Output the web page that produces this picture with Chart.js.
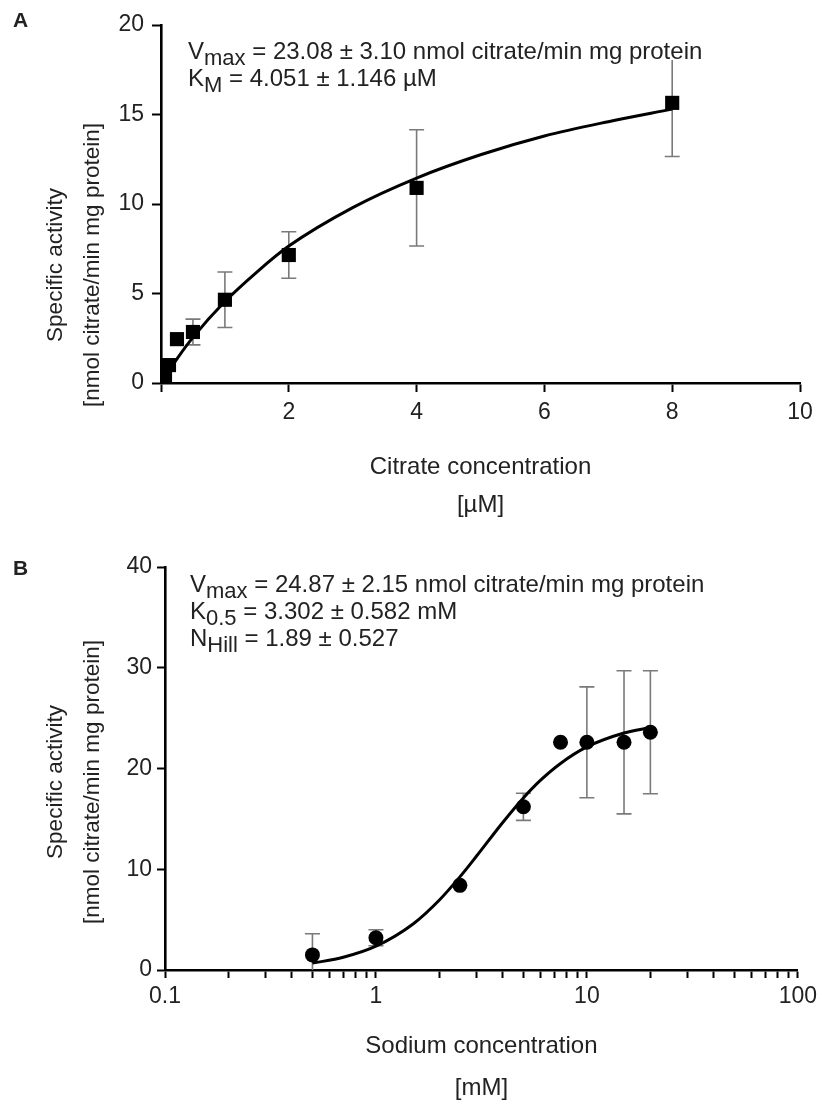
<!DOCTYPE html>
<html><head><meta charset="utf-8">
<script src="https://cdn.jsdelivr.net/npm/chart.js@4.4.0/dist/chart.umd.min.js"></script>
<style>
html,body{margin:0;padding:0;background:#fff;}
#wrap{position:relative;width:822px;height:1109px;overflow:hidden;}
.c{position:absolute;left:0;}
</style></head><body>
<div id="wrap">
<div class="c" style="top:0;width:822px;height:545px"><canvas id="chartA"></canvas></div>
<div class="c" style="top:545px;width:822px;height:564px"><canvas id="chartB"></canvas></div>
</div>
<script>
// ---------- Panel A data ----------
const citrateConc = [0, 0.031, 0.0625, 0.125, 0.25, 0.5, 1, 2, 4, 8];
const citrateActivity = [0, 0.15, 0.45, 1.0, 2.45, 2.85, 4.65, 7.15, 10.9, 15.65];
const citrateSD = [0, 0, 0, 0, 0, 0.72, 1.55, 1.3, 3.25, 3.0];
const citrateFitX = [0, 0.25, 0.5, 1, 1.5, 2, 3, 4, 5, 6, 7, 8];
const citrateFitY = [0, 1.35, 2.55, 4.55, 6.2, 7.65, 9.8, 11.45, 12.75, 13.8, 14.6, 15.3];
const citrateXTicks = [0, 2, 4, 6, 8, 10];
const activityATicks = [0, 5, 10, 15, 20];
const notesA = [
  [['V', 0], ['max', 1], [' = 23.08 ± 3.10 nmol citrate/min mg protein', 0]],
  [['K', 0], ['M', 1], [' = 4.051 ± 1.146 µM', 0]]
];

// ---------- Panel B data ----------
const sodiumConc = [0.5, 1, 2.5, 5, 7.5, 10, 15, 20];
const sodiumActivity = [1.5, 3.2, 8.4, 16.2, 22.6, 22.6, 22.6, 23.6];
const sodiumSD = [2.1, 0.8, 0, 1.35, 0, 5.5, 7.1, 6.1];
const sodiumFitX = [0.5, 0.7, 1, 1.5, 2, 2.5, 3, 4, 5, 6, 7.5, 10, 15, 20];
const sodiumFitY = [0.68, 1.26, 2.36, 4.57, 6.95, 9.24, 11.31, 14.67, 17.08, 18.79, 20.5, 22.14, 23.52, 24.07];
const sodiumXTicks = [0.1, 0.2, 0.3, 0.4, 0.5, 0.6, 0.7, 0.8, 0.9, 1, 2, 3, 4, 5, 6, 7, 8, 9, 10, 20, 30, 40, 50, 60, 70, 80, 90, 100];
const sodiumXLabels = ['0.1', '1', '10', '100'];
const activityBTicks = [0, 10, 20, 30, 40];
const notesB = [
  [['V', 0], ['max', 1], [' = 24.87 ± 2.15 nmol citrate/min mg protein', 0]],
  [['K', 0], ['0.5', 1], [' = 3.302 ± 0.582 mM', 0]],
  [['N', 0], ['Hill', 1], [' = 1.89 ± 0.527', 0]]
];

const yTitle = ['Specific activity', '[nmol citrate/min mg protein]'];
const FONT = "'Liberation Sans', Arial, sans-serif";
const TXT = '#222';
const TICK_SIZE = 23;
const TITLE_SIZE = 24;

// ---------- plugins ----------
const errorBars = {
  id: 'errorBars',
  beforeDatasetsDraw(chart, args, opts) {
    const ctx = chart.ctx, xs = chart.scales.x, ys = chart.scales.y;
    const xsrc = opts.x, ysrc = opts.y, sd = opts.sd;
    ctx.save();
    ctx.strokeStyle = '#7a7a7a';
    ctx.lineWidth = 1.6;
    for (let i = 0; i < xsrc.length; i++) {
      if (!sd[i]) continue;
      const px = xs.getPixelForValue(xsrc[i]);
      const top = ys.getPixelForValue(ysrc[i] + sd[i]);
      const bot = Math.min(ys.getPixelForValue(ysrc[i] - sd[i]), ys.getPixelForValue(0));
      const hw = 7.5;
      ctx.beginPath();
      ctx.moveTo(px, top); ctx.lineTo(px, bot);
      ctx.moveTo(px - hw, top); ctx.lineTo(px + hw, top);
      if (ysrc[i] - sd[i] > 0) { ctx.moveTo(px - hw, bot); ctx.lineTo(px + hw, bot); }
      ctx.stroke();
    }
    ctx.restore();
  }
};

const decorations = {
  id: 'decorations',
  afterDraw(chart, args, opts) {
    const ctx = chart.ctx;
    ctx.save();
    ctx.fillStyle = TXT;
    // panel letter
    ctx.font = 'bold 21px ' + FONT;
    ctx.textAlign = 'left';
    ctx.textBaseline = 'alphabetic';
    ctx.fillText(opts.letter, opts.letterX, opts.letterY);
    // y-axis title (two lines)
    ctx.font = '22.5px ' + FONT;
    ctx.textAlign = 'center';
    ctx.textBaseline = 'middle';
    opts.yTitleX.forEach((x, i) => {
      ctx.save();
      ctx.translate(x, opts.yTitleY);
      ctx.rotate(-Math.PI / 2);
      ctx.fillText(yTitle[i], 0, 0);
      ctx.restore();
    });
    // fit parameters (text sits on an opaque box, as in the original figure)
    ctx.textAlign = 'left';
    ctx.textBaseline = 'alphabetic';
    opts.notes.forEach((line, li) => {
      let cx = opts.noteX;
      const base = opts.noteY + li * opts.noteDy;
      if (opts.mask) {
        let w = 0;
        line.forEach(([t, sub]) => { ctx.font = (sub ? '22px ' : '24px ') + FONT; w += ctx.measureText(t).width; });
        ctx.fillStyle = '#fff';
        ctx.fillRect(cx, base - 20, w, 21);
        ctx.fillStyle = TXT;
      }
      line.forEach(([t, sub]) => {
        ctx.font = (sub ? '22px ' : '24px ') + FONT;
        ctx.fillText(t, cx, base + (sub ? 6 : 0));
        cx += ctx.measureText(t).width;
      });
    });
    ctx.restore();
  }
};

function axisCommon(tickLen) {
  return {
    grid: { drawOnChartArea: false, drawTicks: true, tickLength: tickLen, tickWidth: 2, tickColor: '#000' },
    border: { display: true, color: '#000', width: 2.6 }
  };
}

// ---------- Chart A ----------
new Chart(document.getElementById('chartA'), {
  type: 'scatter',
  data: {
    datasets: [
      {
        label: 'data',
        data: citrateConc.map((x, i) => ({ x, y: citrateActivity[i] })),
        pointStyle: 'rect', pointRadius: 10, pointHoverRadius: 10,
        backgroundColor: '#000', borderColor: '#000', borderWidth: 0,
        showLine: false
      },
      {
        label: 'fit',
        data: citrateFitX.map((x, i) => ({ x, y: citrateFitY[i] })),
        showLine: true, pointRadius: 0, borderColor: '#000', borderWidth: 3,
        cubicInterpolationMode: 'monotone', fill: false
      }
    ]
  },
  options: {
    responsive: true, maintainAspectRatio: false, animation: false,
    layout: { padding: { top: 25, right: 22, left: 0, bottom: 0 } },
    plugins: {
      legend: { display: false }, tooltip: { enabled: false },
      errorBars: { x: citrateConc, y: citrateActivity, sd: citrateSD },
      decorations: { letter: 'A', letterX: 13, letterY: 27, yTitleX: [56, 93], yTitleY: 265,
        notes: notesA, noteX: 188, noteY: 59, noteDy: 27, mask: true }
    },
    scales: {
      x: Object.assign(axisCommon(9), {
        type: 'linear', min: 0, max: 10,
        afterBuildTicks: s => { s.ticks = citrateXTicks.map(v => ({ value: v })); },
        afterFit: s => { s.height = 162; },
        ticks: { color: TXT, font: { family: FONT, size: TICK_SIZE }, padding: 7, maxRotation: 0,
          callback: v => (v === 0 ? '' : String(v)) },
        title: { display: true, text: ['Citrate concentration', '[µM]'], color: TXT,
          font: { family: FONT, size: TITLE_SIZE, lineHeight: 38 / TITLE_SIZE }, padding: { top: 0, bottom: 21 } }
      }),
      y: Object.assign(axisCommon(9), {
        type: 'linear', min: 0, max: 20,
        afterBuildTicks: s => { s.ticks = activityATicks.map(v => ({ value: v })); },
        afterFit: s => { s.width = 161; },
        ticks: { color: TXT, font: { family: FONT, size: TICK_SIZE }, padding: 8 }
      })
    }
  },
  plugins: [errorBars, decorations]
});

// ---------- Chart B ----------
new Chart(document.getElementById('chartB'), {
  type: 'scatter',
  data: {
    datasets: [
      {
        label: 'data',
        data: sodiumConc.map((x, i) => ({ x, y: sodiumActivity[i] })),
        pointStyle: 'circle', pointRadius: 7.5, pointHoverRadius: 7.5,
        backgroundColor: '#000', borderColor: '#000', borderWidth: 0,
        showLine: false
      },
      {
        label: 'fit',
        data: sodiumFitX.map((x, i) => ({ x, y: sodiumFitY[i] })),
        showLine: true, pointRadius: 0, borderColor: '#000', borderWidth: 3,
        cubicInterpolationMode: 'monotone', fill: false
      }
    ]
  },
  options: {
    responsive: true, maintainAspectRatio: false, animation: false,
    layout: { padding: { top: 22, right: 22, left: 0, bottom: 0 } },
    plugins: {
      legend: { display: false }, tooltip: { enabled: false },
      errorBars: { x: sodiumConc, y: sodiumActivity, sd: sodiumSD },
      decorations: { letter: 'B', letterX: 13, letterY: 30, yTitleX: [56, 93], yTitleY: 237,
        notes: notesB, noteX: 190, noteY: 47, noteDy: 27, mask: false }
    },
    scales: {
      x: Object.assign(axisCommon(8), {
        type: 'logarithmic', min: 0.1, max: 100,
        afterBuildTicks: s => { s.ticks = sodiumXTicks.map(v => ({ value: v })); },
        afterFit: s => { s.height = 139; },
        ticks: { color: TXT, font: { family: FONT, size: TICK_SIZE }, padding: 5, maxRotation: 0, autoSkip: false,
          callback: v => { const l = sodiumXLabels.find(t => Math.abs(parseFloat(t) - v) < 1e-9); return l || ''; } },
        title: { display: true, text: ['Sodium concentration', '[mM]'], color: TXT,
          font: { family: FONT, size: TITLE_SIZE, lineHeight: 42 / TITLE_SIZE }, padding: { top: 0, bottom: 0 } }
      }),
      y: Object.assign(axisCommon(8), {
        type: 'linear', min: 0, max: 40,
        afterBuildTicks: s => { s.ticks = activityBTicks.map(v => ({ value: v })); },
        afterFit: s => { s.width = 165; },
        ticks: { color: TXT, font: { family: FONT, size: TICK_SIZE }, padding: 5 }
      })
    }
  },
  plugins: [errorBars, decorations]
});
</script>
</body></html>
